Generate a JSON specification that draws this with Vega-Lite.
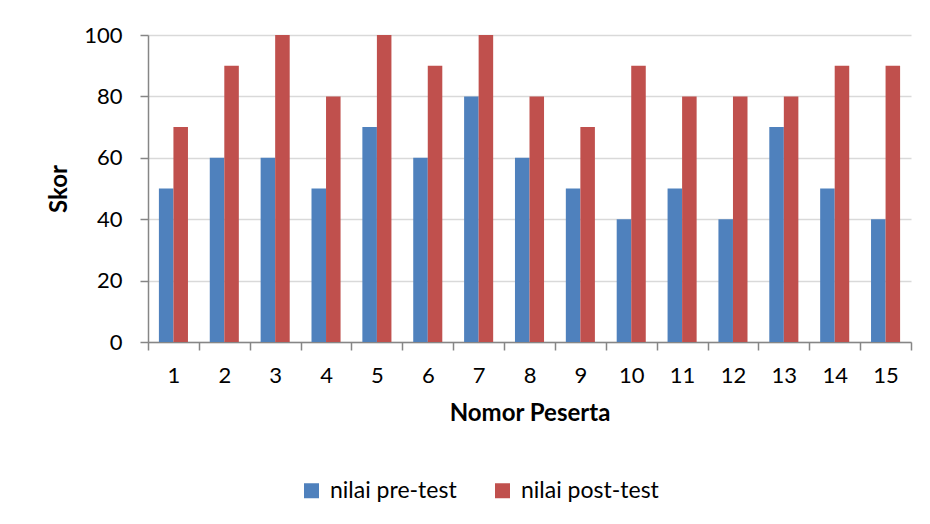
{
  "$schema": "https://vega.github.io/schema/vega-lite/v6.json",
  "width": 763,
  "height": 307,
  "autosize": {"type": "none"},
  "padding": {"left": 148, "top": 35, "right": 19, "bottom": 182},
  "background": "white",
  "data": {
    "values": [
      {"peserta": "1", "seri": "nilai pre-test", "skor": 50},
      {"peserta": "1", "seri": "nilai post-test", "skor": 70},
      {"peserta": "2", "seri": "nilai pre-test", "skor": 60},
      {"peserta": "2", "seri": "nilai post-test", "skor": 90},
      {"peserta": "3", "seri": "nilai pre-test", "skor": 60},
      {"peserta": "3", "seri": "nilai post-test", "skor": 100},
      {"peserta": "4", "seri": "nilai pre-test", "skor": 50},
      {"peserta": "4", "seri": "nilai post-test", "skor": 80},
      {"peserta": "5", "seri": "nilai pre-test", "skor": 70},
      {"peserta": "5", "seri": "nilai post-test", "skor": 100},
      {"peserta": "6", "seri": "nilai pre-test", "skor": 60},
      {"peserta": "6", "seri": "nilai post-test", "skor": 90},
      {"peserta": "7", "seri": "nilai pre-test", "skor": 80},
      {"peserta": "7", "seri": "nilai post-test", "skor": 100},
      {"peserta": "8", "seri": "nilai pre-test", "skor": 60},
      {"peserta": "8", "seri": "nilai post-test", "skor": 80},
      {"peserta": "9", "seri": "nilai pre-test", "skor": 50},
      {"peserta": "9", "seri": "nilai post-test", "skor": 70},
      {"peserta": "10", "seri": "nilai pre-test", "skor": 40},
      {"peserta": "10", "seri": "nilai post-test", "skor": 90},
      {"peserta": "11", "seri": "nilai pre-test", "skor": 50},
      {"peserta": "11", "seri": "nilai post-test", "skor": 80},
      {"peserta": "12", "seri": "nilai pre-test", "skor": 40},
      {"peserta": "12", "seri": "nilai post-test", "skor": 80},
      {"peserta": "13", "seri": "nilai pre-test", "skor": 70},
      {"peserta": "13", "seri": "nilai post-test", "skor": 80},
      {"peserta": "14", "seri": "nilai pre-test", "skor": 50},
      {"peserta": "14", "seri": "nilai post-test", "skor": 90},
      {"peserta": "15", "seri": "nilai pre-test", "skor": 40},
      {"peserta": "15", "seri": "nilai post-test", "skor": 90}
    ]
  },
  "mark": {"type": "bar"},
  "encoding": {
    "x": {
      "field": "peserta",
      "type": "ordinal",
      "sort": null,
      "scale": {"paddingInner": 0, "paddingOuter": 0},
      "axis": {
        "title": "Nomor Peserta",
        "labelAngle": 0,
        "tickBand": "extent",
        "grid": false,
        "domainColor": "#868686",
        "tickColor": "#868686",
        "domainWidth": 1.5,
        "tickWidth": 1.5,
        "tickSize": 8,
        "labelPadding": 15,
        "labelFont": "Lato",
        "labelFontSize": 22,
        "labelColor": "#000000",
        "titleFont": "Lato",
        "titleFontSize": 24,
        "titleFontWeight": "bold",
        "titleColor": "#000000",
        "titlePadding": 15
      }
    },
    "xOffset": {
      "field": "seri",
      "type": "nominal",
      "sort": ["nilai pre-test", "nilai post-test"],
      "scale": {"paddingInner": 0, "paddingOuter": 0.75}
    },
    "y": {
      "field": "skor",
      "type": "quantitative",
      "scale": {"domain": [0, 100], "nice": false},
      "axis": {
        "title": "Skor",
        "values": [0, 20, 40, 60, 80, 100],
        "gridColor": "#D9D9D9",
        "gridWidth": 1.5,
        "domainColor": "#868686",
        "tickColor": "#868686",
        "domainWidth": 1.5,
        "tickWidth": 1.5,
        "tickSize": 8,
        "labelPadding": 18,
        "labelFont": "Lato",
        "labelFontSize": 22,
        "labelColor": "#000000",
        "titleFont": "Lato",
        "titleFontSize": 24,
        "titleFontWeight": "bold",
        "titleColor": "#000000",
        "titlePadding": 12
      }
    },
    "color": {
      "field": "seri",
      "type": "nominal",
      "scale": {"domain": ["nilai pre-test", "nilai post-test"], "range": ["#4F81BD", "#C0504D"]},
      "legend": {
        "title": null,
        "orient": "none",
        "legendX": 152,
        "legendY": 444,
        "direction": "horizontal",
        "symbolType": "square",
        "symbolSize": 225,
        "symbolStrokeWidth": 0,
        "labelFont": "Lato",
        "labelFontSize": 23,
        "labelColor": "#000000",
        "labelOffset": 7,
        "columnPadding": 34,
        "padding": 0
      }
    }
  },
  "config": {"view": {"stroke": null}}
}
